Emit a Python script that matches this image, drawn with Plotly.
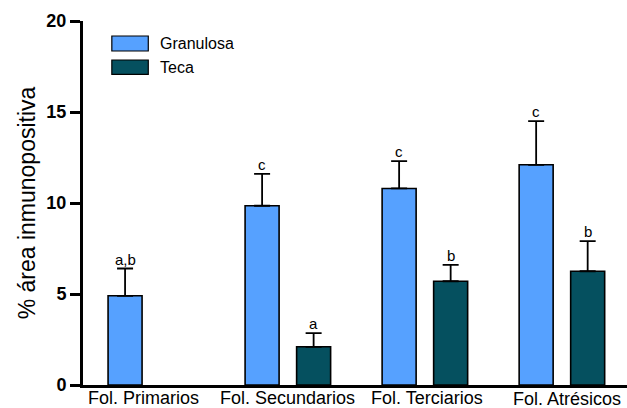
import plotly.graph_objects as go

# Follicle categories and immunopositive area (%) per compartment
categories = ["Fol. Primarios", "Fol. Secundarios", "Fol. Terciarios", "Fol. Atrésicos"]
granulosa_mean = [4.9, 9.85, 10.8, 12.1]
granulosa_sem = [1.5, 1.75, 1.5, 2.4]
teca_mean = [None, 2.1, 5.7, 6.25]
teca_sem = [None, 0.75, 0.9, 1.65]
granulosa_letters = ["a,b", "c", "c", "c"]
teca_letters = ["", "a", "b", "b"]
y_ticks = [0, 5, 10, 15, 20]

FONT = "Liberation Sans, Arial, sans-serif"
COL_G = "#56A1FF"
COL_T = "#05505F"

fig = go.Figure()
fig.add_trace(go.Bar(
    name="Granulosa", x=categories, y=granulosa_mean,
    marker=dict(color=COL_G, line=dict(color="black", width=1.6)),
    error_y=dict(type="data", symmetric=False, array=granulosa_sem,
                 arrayminus=[0] * len(granulosa_sem),
                 color="black", thickness=1.8, width=8),
))
fig.add_trace(go.Bar(
    name="Teca", x=categories, y=teca_mean,
    marker=dict(color=COL_T, line=dict(color="black", width=1.6)),
    error_y=dict(type="data", symmetric=False,
                 array=[0 if v is None else v for v in teca_sem],
                 arrayminus=[0] * len(teca_sem),
                 color="black", thickness=1.8, width=8),
))

# significance letters above the error caps
offset = 0.188
for i, cat in enumerate(categories):
    for mean, sem, letters, dx in (
        (granulosa_mean, granulosa_sem, granulosa_letters, -offset),
        (teca_mean, teca_sem, teca_letters, offset),
    ):
        if mean[i] is None or not letters[i]:
            continue
        fig.add_annotation(
            x=i + dx, y=mean[i] + sem[i], text=letters[i], showarrow=False,
            xanchor="center", yanchor="bottom", yshift=-1,
            font=dict(family=FONT, size=15, color="black"),
        )

# category labels under the x axis
label_shift = [-7, 0, 2, 5]
label_drop = [0, 0, 0, 1]
for i, cat in enumerate(categories):
    fig.add_annotation(
        x=i, y=0, yref="y", text=cat, showarrow=False,
        xanchor="center", yanchor="top", xshift=label_shift[i],
        yshift=-1 - label_drop[i],
        font=dict(family=FONT, size=18, color="black"),
    )

# legend drawn as swatches with text
legend_items = [("Granulosa", COL_G, 0.9176, 0.9588), ("Teca", COL_T, 0.8536, 0.8929)]
for name, col, y0, y1 in legend_items:
    fig.add_shape(type="rect", xref="paper", yref="paper",
                  x0=0.053, x1=0.120, y0=y0, y1=y1,
                  fillcolor=col, line=dict(color="black", width=1.2))
    fig.add_annotation(xref="paper", yref="paper", x=0.137, y=(y0 + y1) / 2,
                       text=name, showarrow=False, xanchor="left", yanchor="middle",
                       font=dict(family=FONT, size=16, color="black"))

fig.update_layout(
    width=627, height=408,
    margin=dict(l=83, r=0, t=21, b=23),
    paper_bgcolor="white", plot_bgcolor="white",
    barmode="group", bargap=0.248, bargroupgap=0.34,
    showlegend=False,
    font=dict(family=FONT, color="black"),
)
fig.update_xaxes(
    type="category", categoryorder="array", categoryarray=categories,
    range=[-0.495, 3.475], showticklabels=False, ticks="",
    showline=True, linecolor="black", linewidth=3, showgrid=False, zeroline=False,
)
fig.update_yaxes(
    range=[0, 20], tickvals=y_ticks, ticks="outside", ticklen=10, tickwidth=3,
    tickcolor="black", showline=True, linecolor="black", linewidth=3,
    showgrid=False, zeroline=False,
    tickfont=dict(family=FONT, size=18, color="black", weight="bold"),
    title=dict(text="% área inmunopositiva", standoff=5,
               font=dict(family=FONT, size=23, color="black")),
)

fig.write_html("out.html")
